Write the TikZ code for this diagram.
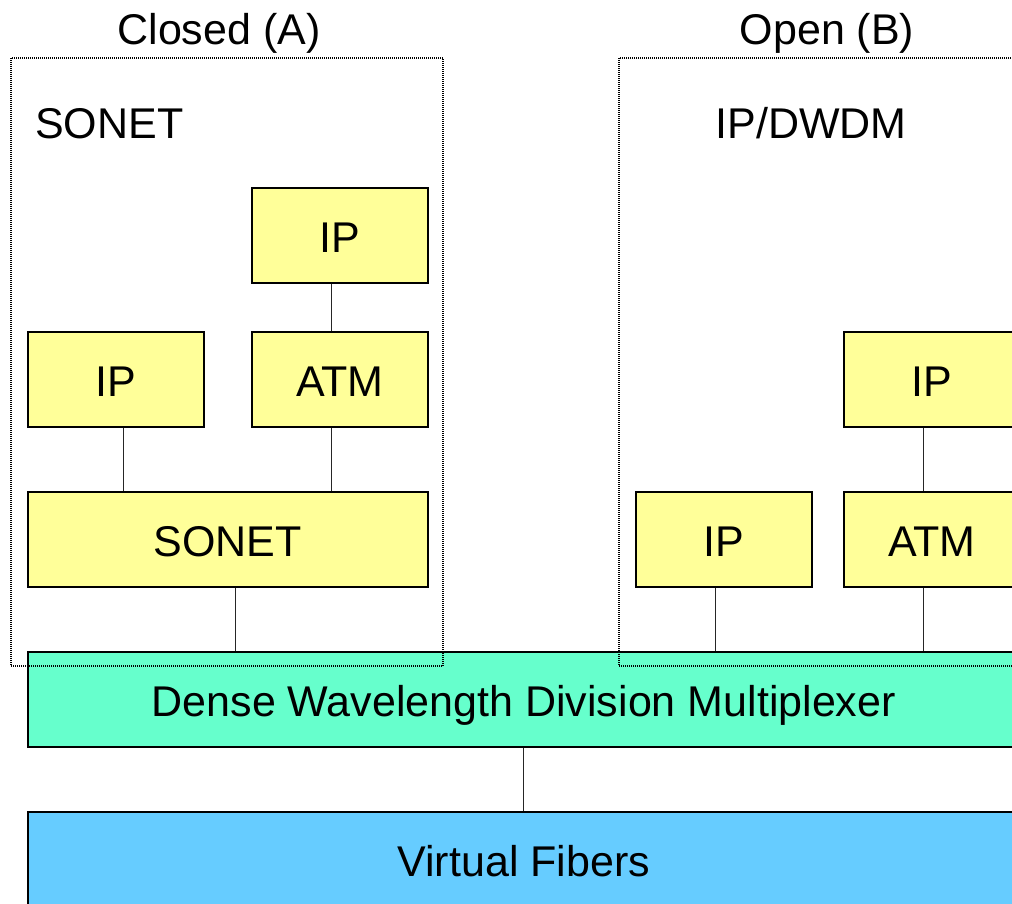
\documentclass[tikz,border=0pt]{standalone}
\usepackage{fontspec}
\setmainfont{Liberation Sans}
\usetikzlibrary{calc}
\definecolor{ylw}{HTML}{FFFF99}
\definecolor{grn}{HTML}{66FFCC}
\definecolor{blu}{HTML}{66CCFF}
\begin{document}
\begin{tikzpicture}[x=1pt,y=-1pt,
  every node/.style={font=\fontsize{43}{50}\selectfont, inner sep=0pt, text height=38pt, text depth=4pt},
  layer/.style={draw=black, line width=1.6pt, anchor=north west, minimum height=95pt},
  ybox/.style={layer, fill=ylw, minimum width=176pt},
  link/.style={draw=black!85, line width=1.1pt},
  region/.style={draw=black, line width=1.1pt, dash pattern=on 1pt off 1pt}]
\useasboundingbox (0,0) rectangle (1012,904);
\clip (0,0) rectangle (1012,904);
% titles
\node (tA) at (219,28) {Closed (A)};
\node (tB) at (827,28) {Open (B)};
\node[anchor=west] (lA) at (35,122) {SONET};
\node (lB) at (811,122) {IP/DWDM};
% boxes A
\node[ybox] (ipt) at (251,187) {IP};
\node[ybox] (ipl) at (27,331) {IP};
\node[ybox] (atmA) at (251,331) {ATM};
\node[layer, fill=ylw, minimum width=400pt] (sonet) at (27,491) {SONET};
% boxes B
\node[ybox] (ipr) at (843,331) {IP};
\node[ybox] (ipB) at (635,491) {IP};
\node[ybox] (atmB) at (843,491) {ATM};
% lower layers
\node[layer, fill=grn, minimum width=992pt] (dwdm) at (27,651) {Dense Wavelength Division Multiplexer};
\node[layer, fill=blu, minimum width=992pt] (vf) at (27,811) {Virtual Fibers};
% connectors
\draw[link] ([xshift=-8pt]ipt.south) -- ([xshift=-8pt]ipt.south |- atmA.north);
\draw[link] ([xshift=8pt]ipl.south) -- ([xshift=8pt]ipl.south |- sonet.north);
\draw[link] ([xshift=-8pt]atmA.south) -- ([xshift=-8pt]atmA.south |- sonet.north);
\draw[link] ([xshift=8pt]sonet.south) -- ([xshift=8pt]sonet.south |- dwdm.north);
\draw[link] ([xshift=-8pt]ipr.south) -- ([xshift=-8pt]ipr.south |- atmB.north);
\draw[link] ([xshift=-8pt]ipB.south) -- ([xshift=-8pt]ipB.south |- dwdm.north);
\draw[link] ([xshift=-8pt]atmB.south) -- ([xshift=-8pt]atmB.south |- dwdm.north);
\draw[link] (dwdm.south) -- (vf.north);
% dotted regions
\draw[region] (11,58) rectangle (443,666);
\draw[region] (619,58) rectangle (1040,666);
\end{tikzpicture}
\end{document}
